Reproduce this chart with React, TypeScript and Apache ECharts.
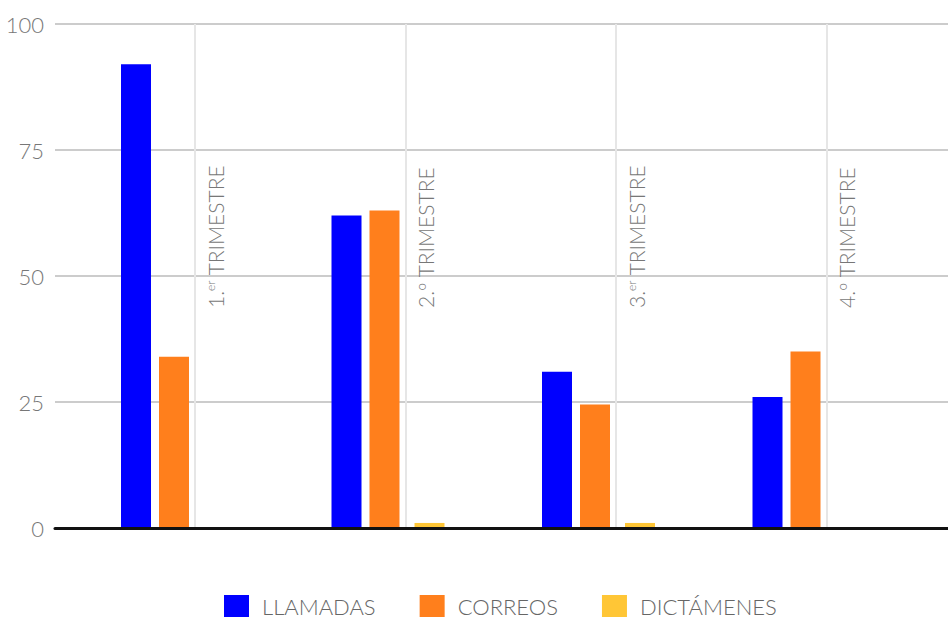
import React, { useEffect, useRef } from "react";
import * as echarts from "echarts";

const categories = ["1.er TRIMESTRE", "2.º TRIMESTRE", "3.er TRIMESTRE", "4.º TRIMESTRE"];
const llamadas = [92, 62, 31, 26];
const correos = [34, 63, 24.5, 35];
const dictamenes = [0, 1, 1, 0];
const yTicks = { min: 0, max: 100, interval: 25 };
const seriesNames = ["LLAMADAS", "CORREOS", "DICTÁMENES"];
const seriesColors = ["#0000ff", "#ff7f1c", "#ffc636"];

const FONT = "Lato, 'Noto Sans', sans-serif";

export default function App() {
  const ref = useRef<HTMLDivElement>(null);
  useEffect(() => {
    if (!ref.current) return;
    const chart = echarts.init(ref.current, undefined, { renderer: "svg" });
    const hiddenY = (gridIndex: number) => ({
      type: "value",
      gridIndex,
      min: yTicks.min,
      max: yTicks.max,
      interval: yTicks.interval,
      show: false,
    });
    const option: any = {
      animation: false,
      backgroundColor: "#ffffff",
      textStyle: { fontFamily: FONT },
      grid: [
        { left: 55, right: 0, top: 24, bottom: 91 },
        { left: 72.25, width: 842, top: 24, bottom: 91 },
        { left: 195, width: 631.5, top: 24, bottom: 91 },
        { left: 215, width: 631.5, top: 24, bottom: 309 },
      ],
      xAxis: [
        {
          type: "category",
          gridIndex: 0,
          data: categories,
          z: 10,
          axisLine: { show: true, lineStyle: { color: "#111111", width: 3 } },
          axisTick: { show: false },
          axisLabel: { show: false },
          splitLine: { show: false },
        },
        {
          type: "category",
          gridIndex: 1,
          data: categories,
          show: false,
        },
        {
          type: "category",
          gridIndex: 2,
          data: categories,
          boundaryGap: false,
          axisLine: { show: false },
          axisTick: { show: false },
          axisLabel: { show: false },
          splitLine: { show: true, lineStyle: { color: "#e6e6e6", width: 2 } },
        },
        {
          type: "category",
          gridIndex: 3,
          data: categories,
          boundaryGap: false,
          position: "bottom",
          axisLine: { show: false },
          axisTick: { show: false },
          splitLine: { show: false },
          axisLabel: {
            show: true,
            inside: true,
            rotate: 90,
            margin: 2,
            interval: 0,
            color: "#777777",
            fontFamily: FONT,
            fontWeight: 300,
            fontSize: 21,
            formatter: (v: string) => {
              const m = v.match(/^(\d\.)er (.*)$/);
              if (m) return m[1] + "{sup|er} " + m[2];
              return v;
            },
            rich: {
              sup: {
                fontSize: 12,
                fontFamily: FONT,
                fontWeight: 300,
                color: "#777777",
                verticalAlign: "top",
              },
            },
          },
        },
      ],
      yAxis: [
        {
          type: "value",
          gridIndex: 0,
          min: yTicks.min,
          max: yTicks.max,
          interval: yTicks.interval,
          axisLine: { show: false },
          axisTick: { show: false },
          axisLabel: {
            margin: 11,
            color: "#777777",
            fontFamily: FONT,
            fontWeight: 300,
            fontSize: 22,
          },
          splitLine: { show: true, lineStyle: { color: "#cccccc", width: 2 } },
        },
        hiddenY(1),
        hiddenY(2),
        hiddenY(3),
      ],
      legend: {
        data: seriesNames,
        left: 224,
        top: 595,
        padding: 0,
        itemWidth: 25,
        itemHeight: 22,
        itemGap: 44,
        icon: "rect",
        textStyle: {
          color: "#666666",
          fontFamily: FONT,
          fontWeight: 300,
          fontSize: 22,
          lineHeight: 22,
          padding: [0, 0, 0, 8],
        },
      },
      series: [
        {
          name: seriesNames[0],
          type: "bar",
          xAxisIndex: 1,
          yAxisIndex: 1,
          data: llamadas,
          barWidth: 30,
          barGap: "0%",
          itemStyle: { color: seriesColors[0] },
        },
        {
          name: "spacer1",
          type: "bar",
          xAxisIndex: 1,
          yAxisIndex: 1,
          data: [],
          barWidth: 8,
          barGap: "0%",
          silent: true,
        },
        {
          name: seriesNames[1],
          type: "bar",
          xAxisIndex: 1,
          yAxisIndex: 1,
          data: correos,
          barWidth: 30,
          barGap: "0%",
          itemStyle: { color: seriesColors[1] },
        },
        {
          name: "spacer2",
          type: "bar",
          xAxisIndex: 1,
          yAxisIndex: 1,
          data: [],
          barWidth: 15,
          barGap: "0%",
          silent: true,
        },
        {
          name: seriesNames[2],
          type: "bar",
          xAxisIndex: 1,
          yAxisIndex: 1,
          data: dictamenes,
          barWidth: 30,
          barGap: "0%",
          itemStyle: { color: seriesColors[2] },
        },
      ],
    };
    chart.setOption(option);
    return () => chart.dispose();
  }, []);
  return (
    <div
      ref={ref}
      style={{ position: "fixed", left: 0, top: 0, width: 948, height: 619, background: "#fff" }}
    />
  );
}
